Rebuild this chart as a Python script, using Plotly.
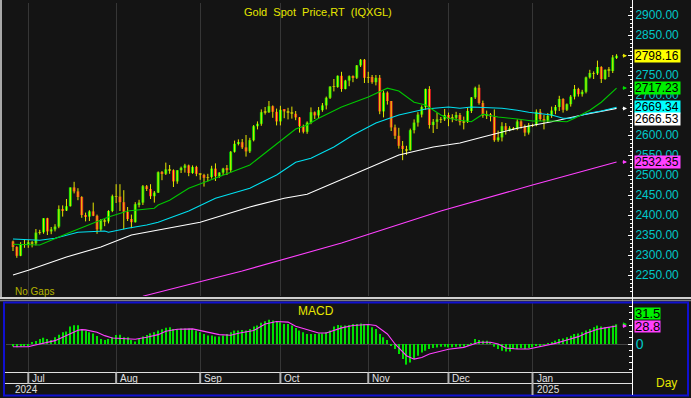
import numpy as np
import pandas as pd
import plotly.graph_objects as go

# ---------------- data ----------------
dates = pd.bdate_range("2024-06-25", "2025-01-31")   # trading days (no gaps)

opens = [2334, 2320, 2298, 2327, 2326, 2332, 2329, 2356, 2357, 2392,
         2359, 2364, 2371, 2415, 2411, 2422, 2469, 2459, 2445, 2400,
         2396, 2409, 2398, 2364, 2387, 2384, 2410, 2447, 2446, 2432,
         2408, 2390, 2382, 2427, 2431, 2472, 2465, 2447, 2456, 2507,
         2503, 2514, 2512, 2484, 2512, 2518, 2524, 2505, 2520, 2503,
         2500, 2493, 2495, 2516, 2497, 2506, 2516, 2512, 2558, 2578,
         2582, 2569, 2559, 2587, 2622, 2628, 2657, 2657, 2672, 2658,
         2634, 2663, 2659, 2656, 2653, 2644, 2622, 2608, 2631, 2657,
         2649, 2662, 2674, 2693, 2721, 2720, 2748, 2715, 2736, 2747,
         2743, 2774, 2788, 2743, 2745, 2732, 2743, 2659, 2706, 2685,
         2619, 2598, 2573, 2565, 2562, 2612, 2631, 2651, 2670, 2715,
         2625, 2633, 2639, 2639, 2650, 2640, 2643, 2650, 2632, 2633,
         2660, 2694, 2718, 2680, 2648, 2652, 2646, 2587, 2594, 2622,
         2612, 2617, 2616, 2634, 2621, 2606, 2624, 2625, 2658, 2640,
         2636, 2648, 2661, 2670, 2690, 2663, 2677, 2696, 2715, 2702,
         2708, 2744, 2755, 2754, 2770, 2740, 2763, 2760, 2794]
highs = [2336, 2322, 2332, 2339, 2338, 2335, 2365, 2363, 2392, 2393,
         2370, 2377, 2424, 2424, 2440, 2469, 2483, 2467, 2447, 2406,
         2412, 2431, 2401, 2390, 2390, 2412, 2451, 2477, 2477, 2462,
         2420, 2401, 2432, 2438, 2475, 2475, 2477, 2460, 2509, 2510,
         2531, 2525, 2514, 2512, 2521, 2528, 2526, 2524, 2523, 2504,
         2503, 2503, 2523, 2529, 2507, 2518, 2525, 2560, 2586, 2589,
         2590, 2600, 2593, 2625, 2634, 2664, 2670, 2685, 2674, 2666,
         2673, 2664, 2668, 2671, 2660, 2645, 2626, 2634, 2669, 2659,
         2670, 2680, 2696, 2722, 2740, 2749, 2758, 2738, 2749, 2749,
         2775, 2790, 2790, 2758, 2750, 2750, 2750, 2711, 2709, 2685,
         2626, 2618, 2585, 2573, 2616, 2639, 2657, 2674, 2716, 2722,
         2640, 2655, 2645, 2665, 2656, 2652, 2658, 2655, 2646, 2668,
         2695, 2721, 2726, 2686, 2661, 2655, 2664, 2611, 2632, 2630,
         2622, 2620, 2639, 2637, 2626, 2630, 2628, 2664, 2665, 2650,
         2655, 2671, 2675, 2698, 2692, 2679, 2700, 2725, 2718, 2713,
         2746, 2763, 2759, 2786, 2772, 2764, 2770, 2800, 2802]
lows = [2310, 2293, 2297, 2318, 2318, 2319, 2324, 2351, 2353, 2350,
        2352, 2359, 2367, 2396, 2410, 2421, 2454, 2437, 2393, 2384,
        2385, 2397, 2353, 2360, 2372, 2379, 2407, 2430, 2410, 2364,
        2385, 2367, 2381, 2419, 2425, 2460, 2440, 2431, 2455, 2487,
        2500, 2503, 2470, 2478, 2505, 2506, 2497, 2503, 2497, 2488,
        2471, 2484, 2491, 2485, 2493, 2500, 2500, 2506, 2556, 2574,
        2565, 2546, 2555, 2584, 2614, 2623, 2651, 2655, 2643, 2624,
        2624, 2642, 2639, 2641, 2637, 2606, 2604, 2603, 2627, 2640,
        2641, 2658, 2664, 2690, 2709, 2718, 2708, 2714, 2722, 2732,
        2740, 2770, 2730, 2730, 2728, 2724, 2652, 2644, 2676, 2610,
        2590, 2566, 2537, 2550, 2561, 2604, 2621, 2644, 2663, 2616,
        2605, 2615, 2630, 2635, 2622, 2632, 2635, 2624, 2614, 2630,
        2655, 2690, 2676, 2643, 2640, 2634, 2583, 2583, 2584, 2601,
        2609, 2612, 2612, 2616, 2597, 2601, 2620, 2622, 2635, 2614,
        2632, 2643, 2652, 2660, 2656, 2660, 2671, 2689, 2696, 2696,
        2704, 2741, 2740, 2750, 2730, 2738, 2745, 2755, 2790]
closes = [2320, 2298, 2327, 2326, 2332, 2329, 2356, 2357, 2392, 2359,
          2364, 2371, 2415, 2411, 2422, 2469, 2459, 2445, 2400, 2396,
          2409, 2398, 2364, 2387, 2384, 2410, 2447, 2446, 2432, 2408,
          2390, 2382, 2427, 2431, 2472, 2465, 2447, 2456, 2507, 2503,
          2514, 2512, 2484, 2512, 2518, 2524, 2505, 2520, 2503, 2500,
          2493, 2495, 2516, 2497, 2506, 2516, 2512, 2558, 2578, 2582,
          2569, 2559, 2587, 2622, 2628, 2657, 2657, 2672, 2658, 2634,
          2663, 2659, 2656, 2653, 2644, 2622, 2608, 2631, 2657, 2649,
          2662, 2674, 2693, 2721, 2720, 2748, 2715, 2736, 2747, 2743,
          2774, 2788, 2743, 2745, 2732, 2743, 2659, 2706, 2685, 2619,
          2598, 2573, 2565, 2562, 2612, 2631, 2651, 2670, 2715, 2625,
          2633, 2639, 2639, 2650, 2640, 2643, 2650, 2632, 2633, 2660,
          2694, 2718, 2680, 2648, 2652, 2646, 2587, 2594, 2622, 2612,
          2617, 2616, 2634, 2621, 2606, 2624, 2625, 2658, 2640, 2636,
          2648, 2661, 2670, 2690, 2663, 2677, 2696, 2715, 2702, 2708,
          2744, 2755, 2754, 2770, 2740, 2763, 2760, 2794, 2798.16]

# moving averages (trading-day index, value)
ma20_day = [0, 7, 15, 23, 25, 30, 37, 38, 41, 46, 53, 59, 62, 66, 71, 74, 77, 80, 86, 93,
            98, 101, 105, 108, 112, 114, 117, 120, 123, 127, 132, 136, 141, 145, 147, 151, 154, 158]
ma20_val = [2327, 2325, 2357, 2387, 2395, 2410, 2417, 2425, 2437, 2467, 2492, 2515, 2525, 2555,
            2592, 2615, 2625, 2642, 2670, 2695, 2717, 2710, 2682, 2675, 2650, 2642, 2637, 2633,
            2652, 2645, 2640, 2635, 2635, 2633, 2642, 2662, 2682, 2717.23]
ma50_day = [0, 7, 11, 17, 24, 25, 30, 35, 38, 46, 53, 62, 69, 74, 78, 84, 89, 95, 101, 108,
            114, 117, 120, 128, 132, 135, 141, 144, 146, 151, 154, 158]
ma50_val = [2340, 2337, 2342, 2357, 2360, 2357, 2367, 2375, 2382, 2410, 2442, 2467, 2500, 2532,
            2542, 2570, 2600, 2630, 2650, 2665, 2670, 2667, 2670, 2667, 2662, 2657, 2650, 2642,
            2642, 2655, 2660, 2669.34]
ma100_day = [0, 4, 14, 23, 31, 38, 49, 62, 71, 77, 93, 101, 110, 114, 117, 123, 132, 141, 149, 158]
ma100_val = [2250, 2262, 2295, 2320, 2350, 2362, 2382, 2420, 2442, 2452, 2517, 2550, 2570, 2575,
             2580, 2595, 2617, 2633, 2650, 2666.53]
ma200_day = [34, 60, 86, 112, 136, 158]
ma200_val = [2197, 2260, 2330, 2410, 2475, 2532.35]

macd = [-4, -5, -4, -3, -2, 3, 5, 8, 10, 8,
        6.5, 11, 15, 19, 20, 28, 30, 30, 24, 21.5,
        19, 17, 13, 8, 6.5, 8, 11, 14.5, 15, 11,
        11, 6.5, 4, 8, 12, 14.5, 17, 19, 21.5, 23.5,
        26, 27, 24, 24, 25, 25, 25, 24, 21.5, 19,
        16, 13.5, 13.5, 12, 12, 13.5, 16, 19, 21.5, 21.5,
        22.6, 21.5, 24, 28, 29.6, 33.9, 36.6, 38.7, 37.6, 36,
        35, 32, 32, 29.6, 25.8, 21.5, 18.8, 16, 16, 16,
        17, 17, 18.8, 21.5, 28, 30.6, 29.6, 29.6, 30.6, 32,
        32, 33, 32, 30.6, 27, 24, 16, 10.8, 6.5, -2.7,
        -8, -16, -24, -33, -29.6, -24, -18.8, -13.4, -10.8, -8,
        -6.5, -5.4, -4.3, -4.3, -5.4,
        -5, -4.3, -4.3, -4.3, -2.7, 1, 8, 6.5, 5.4, 5.4,
        2.7, -4.3, -8, -10.7, -12, -12, -8, -8, -6.5, -8,
        -6.5, -5.4, -2.7, -2.7, -1, 1, 2.7, 5.4, 8, 9,
        11, 13.4, 16, 17, 19, 21.5, 24, 27, 29.5, 28,
        27, 27, 29.5, 31.5]
sig_day = [0, 4, 5, 8, 11, 13, 16, 17, 18, 19, 22, 24, 26, 28, 31, 32, 35, 38, 40, 43, 47, 49,
           52, 54, 57, 59, 63, 66, 69, 72, 74, 77, 80, 82, 84, 86, 89, 93, 95, 98, 100, 103,
           105, 107, 109, 112, 114, 118, 120, 122, 125, 127, 129, 132, 135, 137, 140, 142,
           145, 148, 150, 153, 155, 158]
sig_val = [-4.3, -4.3, -2.7, 1, 5.4, 10.8, 18.8, 22, 23, 22.6, 18.8, 13.4, 9.7, 9.2, 8, 7.5,
           10.8, 15, 20.4, 23.6, 24.2, 21.5, 17.2, 15, 14, 17.2, 21.5, 32, 36, 35, 28.5, 22.6,
           17.7, 17.7, 21.5, 25.8, 29.6, 31.2, 29.6, 16, 0, -18.8, -24.2, -21.5, -16, -10.8,
           -8.5, -5.4, -1, 2.7, 2.7, 0, -6.5, -8, -8, -5.4, -2.7, 1, 6.5, 11.8, 17.2, 23.6,
           25.8, 28.8]

price_ticks = list(range(2250, 2901, 50))

# ---------------- layout geometry ----------------
W, H = 691, 398
ML, MR, MT, MB = 6, 59, 3, 26
PW, PH = W - ML - MR, H - MT - MB


def px_x(p):
    return (p - ML) / PW


def px_y(p):
    return (H - MB - p) / PH


BG = "#141414"
GRID = "#363636"
CYAN_TXT = "#00c8c8"
YEL = "#e6e600"

n = len(dates)
xi = np.arange(n)
o = np.array(opens, float)
c = np.array(closes, float)
body = c - o
body_draw = np.where(np.abs(body) < 1.0, 1.0, body)
body_col = np.where(np.abs(body) < 4, "#8c8c00", np.where(body > 0, "#00e800", "#ee2020"))

wx, wy = [], []
for i in range(n):
    wx += [i, i, None]
    wy += [lows[i], highs[i], None]

month_idx = [i for i in range(1, n) if dates[i].month != dates[i - 1].month]
month_lbl = [dates[i].strftime("%b") for i in month_idx]
year_idx = [i for i in month_idx if dates[i].month == 1]

x_range = [(ML - 13) / 3.82, (ML + PW - 13) / 3.82]
y_range = [2900 - (296 - 15) * 2.5, 2900 - (3 - 15) * 2.5]
m_range = [-(372 - 344) * 1.6, (344 - 303) * 1.6]

fig = go.Figure()
fig.add_trace(go.Scatter(x=wx, y=wy, mode="lines", line=dict(color="#e6e600", width=1),
                         hoverinfo="skip", xaxis="x", yaxis="y"))
fig.add_trace(go.Bar(x=xi, y=body_draw, base=o, marker=dict(color=body_col, line=dict(width=0)),
                     width=0.75, xaxis="x", yaxis="y"))
for d, v, col in [(ma200_day, ma200_val, "#ff40ff"), (ma100_day, ma100_val, "#ffffff"),
                  (ma50_day, ma50_val, "#00e0f0"), (ma20_day, ma20_val, "#00c800")]:
    fig.add_trace(go.Scatter(x=d, y=v, mode="lines", line=dict(color=col, width=1.1),
                             xaxis="x", yaxis="y"))

fig.add_trace(go.Bar(x=xi, y=macd, marker=dict(color="#00e000", line=dict(width=0)), width=0.3,
                     xaxis="x2", yaxis="y2"))
fig.add_trace(go.Scatter(x=sig_day, y=sig_val, mode="lines", line=dict(color="#ff40ff", width=1.1),
                         xaxis="x2", yaxis="y2"))

axis_font = dict(family="Liberation Sans, Arial", size=12, color=CYAN_TXT)
fig.update_layout(
    width=W, height=H, margin=dict(l=ML, r=MR, t=MT, b=MB),
    paper_bgcolor=BG, plot_bgcolor=BG, showlegend=False, barmode="overlay",
    font=dict(family="Liberation Sans, Arial", size=12, color="#ffffff"),
    xaxis=dict(domain=[0, 1], anchor="y", range=x_range, tickvals=month_idx, showticklabels=False,
               showgrid=True, gridcolor=GRID, gridwidth=1, zeroline=False, ticks="", showline=False),
    xaxis2=dict(domain=[0, 1], anchor="y2", range=x_range, tickvals=month_idx, showticklabels=False,
                showgrid=True, gridcolor=GRID, gridwidth=1, zeroline=False, ticks="", showline=False,
                matches="x"),
    yaxis=dict(domain=[px_y(296), 1], anchor="x", side="right", range=y_range, tickvals=price_ticks,
               tickformat=".2f", tickfont=axis_font, showgrid=False, zeroline=False,
               ticks="inside", ticklen=4, tickcolor="#ffffff", showline=True, linecolor="#ffffff",
               minor=dict(tickmode="linear", dtick=10, tick0=0, ticks="inside", ticklen=2,
                          tickcolor="#ffffff", showgrid=False)),
    yaxis3=dict(overlaying="y", anchor="x", side="right", range=y_range, dtick=100, tick0=0,
                showgrid=True, gridcolor=GRID, showticklabels=False, ticks="", zeroline=False,
                showline=False),
    yaxis4=dict(overlaying="y", anchor="x", side="left", range=y_range, dtick=25, tick0=0,
                showgrid=False, showticklabels=False, ticks="inside", ticklen=3,
                tickcolor="#c8c8c8", showline=True, linecolor="#c8c8c8", zeroline=False),
    yaxis2=dict(domain=[0, px_y(303)], anchor="x2", side="right", range=m_range, tickvals=[0],
                ticktext=["0"], tickfont=dict(family="Liberation Sans, Arial", size=14, color=CYAN_TXT),
                showgrid=False, zeroline=True, zerolinecolor="#444444", zerolinewidth=1,
                ticks="inside", ticklen=4, tickcolor="#ffffff", showline=True, linecolor="#ffffff",
                minor=dict(tickmode="linear", dtick=10, tick0=0, ticks="inside", ticklen=3,
                           tickcolor="#ffffff", showgrid=False)),
    yaxis5=dict(overlaying="y2", anchor="x2", side="left", range=m_range, dtick=10, tick0=0,
                showgrid=False, showticklabels=False, ticks="inside", ticklen=3,
                tickcolor="#c8c8c8", showline=True, linecolor="#c8c8c8", zeroline=False),
)

shapes = []
# window frame pieces
shapes.append(dict(type="rect", xref="paper", yref="paper", x0=px_x(0), x1=px_x(2), y0=px_y(297),
                   y1=px_y(0), fillcolor="#a8a8a8", line=dict(width=0), layer="above"))
shapes.append(dict(type="line", xref="paper", yref="paper", x0=px_x(0), x1=px_x(W), y0=px_y(298),
                   y1=px_y(298), line=dict(color="#d0d0d0", width=2)))
shapes.append(dict(type="line", xref="paper", yref="paper", x0=px_x(0), x1=px_x(W), y0=px_y(300.5),
                   y1=px_y(300.5), line=dict(color="#7a7a7a", width=1.5)))
shapes.append(dict(type="rect", xref="paper", yref="paper", x0=px_x(4), x1=px_x(688), y0=px_y(395.5),
                   y1=px_y(302.5), line=dict(color="#1010d0", width=2), fillcolor="rgba(0,0,0,0)"))
# right axis line down to the bottom
shapes.append(dict(type="line", xref="paper", yref="paper", x0=px_x(632.5), x1=px_x(632.5),
                   y0=px_y(395), y1=px_y(0), line=dict(color="#ffffff", width=1)))
# bottom time band lines
for yy in (372.5, 383.5):
    shapes.append(dict(type="line", xref="paper", yref="paper", x0=px_x(5), x1=px_x(632.5),
                       y0=px_y(yy), y1=px_y(yy), line=dict(color="#e0e0e0", width=1)))
for i in month_idx:
    bottom = 395 if i in year_idx else 383.5
    shapes.append(dict(type="line", xref="x2", yref="paper", x0=i, x1=i, y0=px_y(bottom),
                       y1=px_y(372.5), line=dict(color="#b0b0b0", width=2)))
fig.update_layout(shapes=shapes)

ann = []
ann.append(dict(xref="paper", yref="paper", x=px_x(318), y=px_y(12), xanchor="center", yanchor="middle",
                text="Gold\u00a0 Spot\u00a0 Price,RT\u00a0 (IQXGL)", showarrow=False,
                font=dict(family="Liberation Sans, Arial", size=11, color=YEL)))
ann.append(dict(xref="paper", yref="paper", x=px_x(13), y=px_y(291.5), xanchor="left", yanchor="middle",
                text="No Gaps", showarrow=False,
                font=dict(family="Liberation Sans, Arial", size=10, color="#b4b400")))
ann.append(dict(xref="paper", yref="paper", x=px_x(316), y=px_y(311), xanchor="center", yanchor="middle",
                text="MACD", showarrow=False,
                font=dict(family="Liberation Sans, Arial", size=12, color=YEL)))
ann.append(dict(xref="paper", yref="paper", x=px_x(666), y=px_y(383), xanchor="center", yanchor="middle",
                text="Day", showarrow=False,
                font=dict(family="Liberation Sans, Arial", size=12, color=YEL)))
for i, lb in zip(month_idx, month_lbl):
    ann.append(dict(xref="x2", yref="paper", x=i, xshift=2, y=px_y(378.5), xanchor="left",
                    yanchor="middle", text=lb, showarrow=False,
                    font=dict(family="Liberation Sans, Arial", size=10, color="#e0e0e0")))
ann.append(dict(xref="x2", yref="paper", x=0, y=px_y(389.5), xanchor="left", yanchor="middle",
                text=dates[0].strftime("%Y"), showarrow=False,
                font=dict(family="Liberation Sans, Arial", size=10, color="#e0e0e0")))
for i in year_idx:
    ann.append(dict(xref="x2", yref="paper", x=i, xshift=2, y=px_y(389.5), xanchor="left",
                    yanchor="middle", text=dates[i].strftime("%Y"), showarrow=False,
                    font=dict(family="Liberation Sans, Arial", size=10, color="#e0e0e0")))

# last-value labels on the right
price_labels = [(closes[-1], "#ffff00", 0), (ma20_val[-1], "#00f000", 0), (ma50_val[-1], "#00ffff", 0),
                (ma100_val[-1], "#ffffff", -11), (ma200_val[-1], "#ff40ff", 0)]
for v, col, sh in price_labels:
    ann.append(dict(xref="paper", yref="y", x=px_x(634), y=v, yshift=sh, xanchor="left",
                    yanchor="middle", text=f"{v:.2f}", showarrow=False, bgcolor=col, width=45,
                    height=12, align="left", borderpad=0,
                    font=dict(family="Liberation Sans, Arial", size=12, color="#000000")))
for v, col in [(closes[-1], "#e6e600"), (ma20_val[-1], "#00e000"), (ma100_val[-1], "#ffffff"),
               (ma200_val[-1], "#ff40ff")]:
    ann.append(dict(xref="paper", yref="y", x=px_x(627), y=v, ax=-6, ay=0, text="", showarrow=True,
                    arrowhead=2, arrowsize=0.8, arrowwidth=1, arrowcolor=col))
macd_labels = [(macd[-1], "#00f000", 11), (sig_val[-1], "#ff40ff", 0)]
for v, col, sh in macd_labels:
    ann.append(dict(xref="paper", yref="y2", x=px_x(634), y=v, yshift=sh, xanchor="left",
                    yanchor="middle", text=f"{v:.1f}", showarrow=False, bgcolor=col, width=25,
                    height=11, align="left", borderpad=0,
                    font=dict(family="Liberation Sans, Arial", size=13, color="#000000")))
for v, col in [(macd[-1], "#00e000"), (sig_val[-1], "#ff40ff")]:
    ann.append(dict(xref="paper", yref="y2", x=px_x(627), y=v, ax=-6, ay=0, text="", showarrow=True,
                    arrowhead=2, arrowsize=0.8, arrowwidth=1, arrowcolor=col))
fig.update_layout(annotations=ann)

fig.write_html("out.html",
               config={"displayModeBar": False},
               post_script="document.body.style.margin='0px';document.body.style.padding='0px';"
                           "document.body.style.overflow='hidden';"
                           "document.body.style.background='#141414';")
